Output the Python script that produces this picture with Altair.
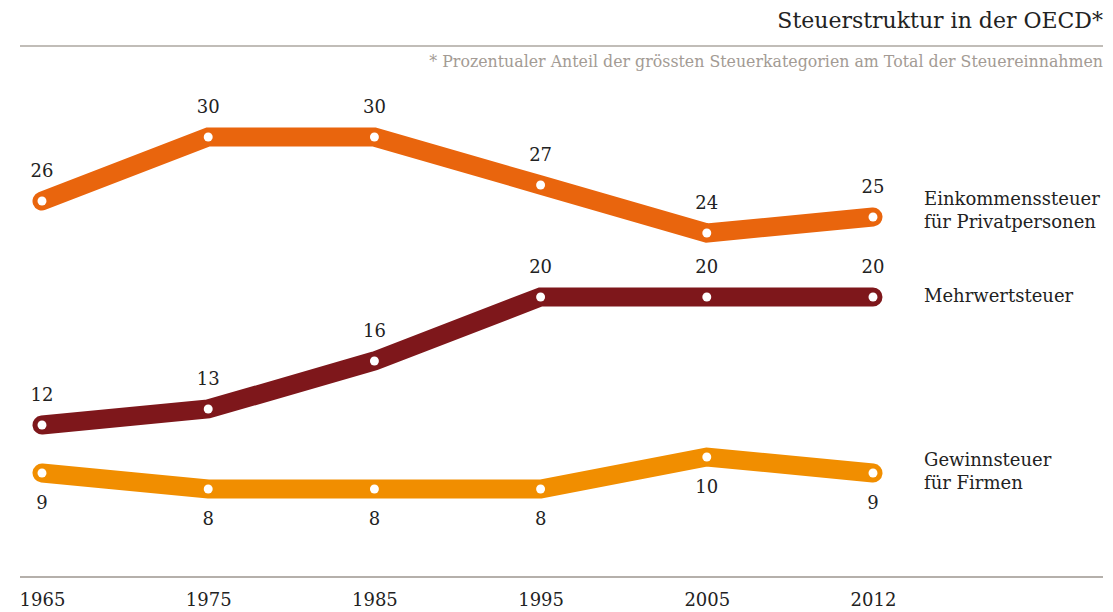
import altair as alt
import pandas as pd

years = ["1965", "1975", "1985", "1995", "2005", "2012"]
einkommen = [26, 30, 30, 27, 24, 25]
mehrwert = [12, 13, 16, 20, 20, 20]
gewinn = [9, 8, 8, 8, 10, 9]
series = ["Einkommenssteuer", "Mehrwertsteuer", "Gewinnsteuer"]
series_labels = ["Einkommenssteuer\nfür Privatpersonen", "Mehrwertsteuer", "Gewinnsteuer\nfür Firmen"]
colors = ["#E9650D", "#7E171B", "#F18E00"]
title_text = "Steuerstruktur in der OECD*"
subtitle_text = "* Prozentualer Anteil der grössten Steuerkategorien am Total der Steuereinnahmen"

FONT = "DejaVu Serif"
TXT = "#222222"

rows = []
for s, lab, vals in zip(series, series_labels, [einkommen, mehrwert, gewinn]):
    for y, v in zip(years, vals):
        rows.append({"year": y, "value": v, "series": s, "label": lab})
df = pd.DataFrame(rows)

W, H = 1097, 569
x_enc = alt.X("year:O", sort=years,
              scale=alt.Scale(type="point", range=[34, 865], padding=0),
              axis=alt.Axis(title=None, domain=False, ticks=False, tickSize=0,
                            labelAngle=0, labelFont=FONT, labelFontSize=18,
                            labelColor=TXT, labelPadding=14, grid=False))
y_enc = alt.Y("value:Q", scale=alt.Scale(domain=[2.5, 30], range=[569, 129], zero=False),
              axis=None)
c_enc = alt.Color("series:N", scale=alt.Scale(domain=series, range=colors), legend=None)

base = alt.Chart(df)

lines = base.mark_line(strokeWidth=19, strokeCap="round", strokeJoin="miter").encode(
    x=x_enc, y=y_enc, color=c_enc, detail="series:N")
dots = base.mark_circle(color="white", size=80, opacity=1).encode(x=x_enc, y=y_enc)

above = base.transform_filter(alt.datum.series != "Gewinnsteuer").mark_text(
    font=FONT, fontSize=18, color=TXT, dy=-29, baseline="middle").encode(
    x=x_enc, y=y_enc, text="value:Q")
below = base.transform_filter(alt.datum.series == "Gewinnsteuer").mark_text(
    font=FONT, fontSize=18, color=TXT, dy=31, baseline="middle").encode(
    x=x_enc, y=y_enc, text="value:Q")

last = base.transform_filter(alt.datum.year == "2012")
lab_style = dict(font=FONT, fontSize=18, color=TXT, align="left", dx=51,
                 baseline="middle", lineBreak="\n", lineHeight=23)
lab1 = last.transform_filter(alt.datum.series == "Einkommenssteuer").mark_text(
    dy=-17, **lab_style).encode(x=x_enc, y=y_enc, text="label:N")
lab2 = last.transform_filter(alt.datum.series == "Mehrwertsteuer").mark_text(
    dy=0, **lab_style).encode(x=x_enc, y=y_enc, text="label:N")
lab3 = last.transform_filter(alt.datum.series == "Gewinnsteuer").mark_text(
    dy=-12, **lab_style).encode(x=x_enc, y=y_enc, text="label:N")

tdf = pd.DataFrame({"t": [title_text], "s": [subtitle_text]})
title = alt.Chart(tdf).mark_text(font=FONT, fontSize=22, color=TXT, align="right",
                                 baseline="alphabetic").encode(
    text="t:N", x=alt.value(1095), y=alt.value(20))
subtitle = alt.Chart(tdf).mark_text(font=FONT, fontSize=15.8, color="#A39B94", align="right",
                                    baseline="alphabetic").encode(
    text="s:N", x=alt.value(1095), y=alt.value(59))
top_rule = alt.Chart(tdf).mark_rule(color="#ADA7A1", strokeWidth=1.5).encode(
    x=alt.value(12), x2=alt.value(1095), y=alt.value(38))
bottom_rule = alt.Chart(tdf).mark_rule(color="#9C968F", strokeWidth=1.5).encode(
    x=alt.value(12), x2=alt.value(1095), y=alt.value(569))

chart = alt.layer(top_rule, bottom_rule, title, subtitle, lines, dots, above, below,
                  lab1, lab2, lab3).properties(
    width=W, height=H,
    background="white",
    autosize=alt.AutoSizeParams(type="none"),
    padding={"left": 0, "top": 0, "right": 0, "bottom": 36},
).configure_view(strokeWidth=0, stroke=None)

chart.save("out.html", embed_options={"renderer": "svg", "actions": False})
